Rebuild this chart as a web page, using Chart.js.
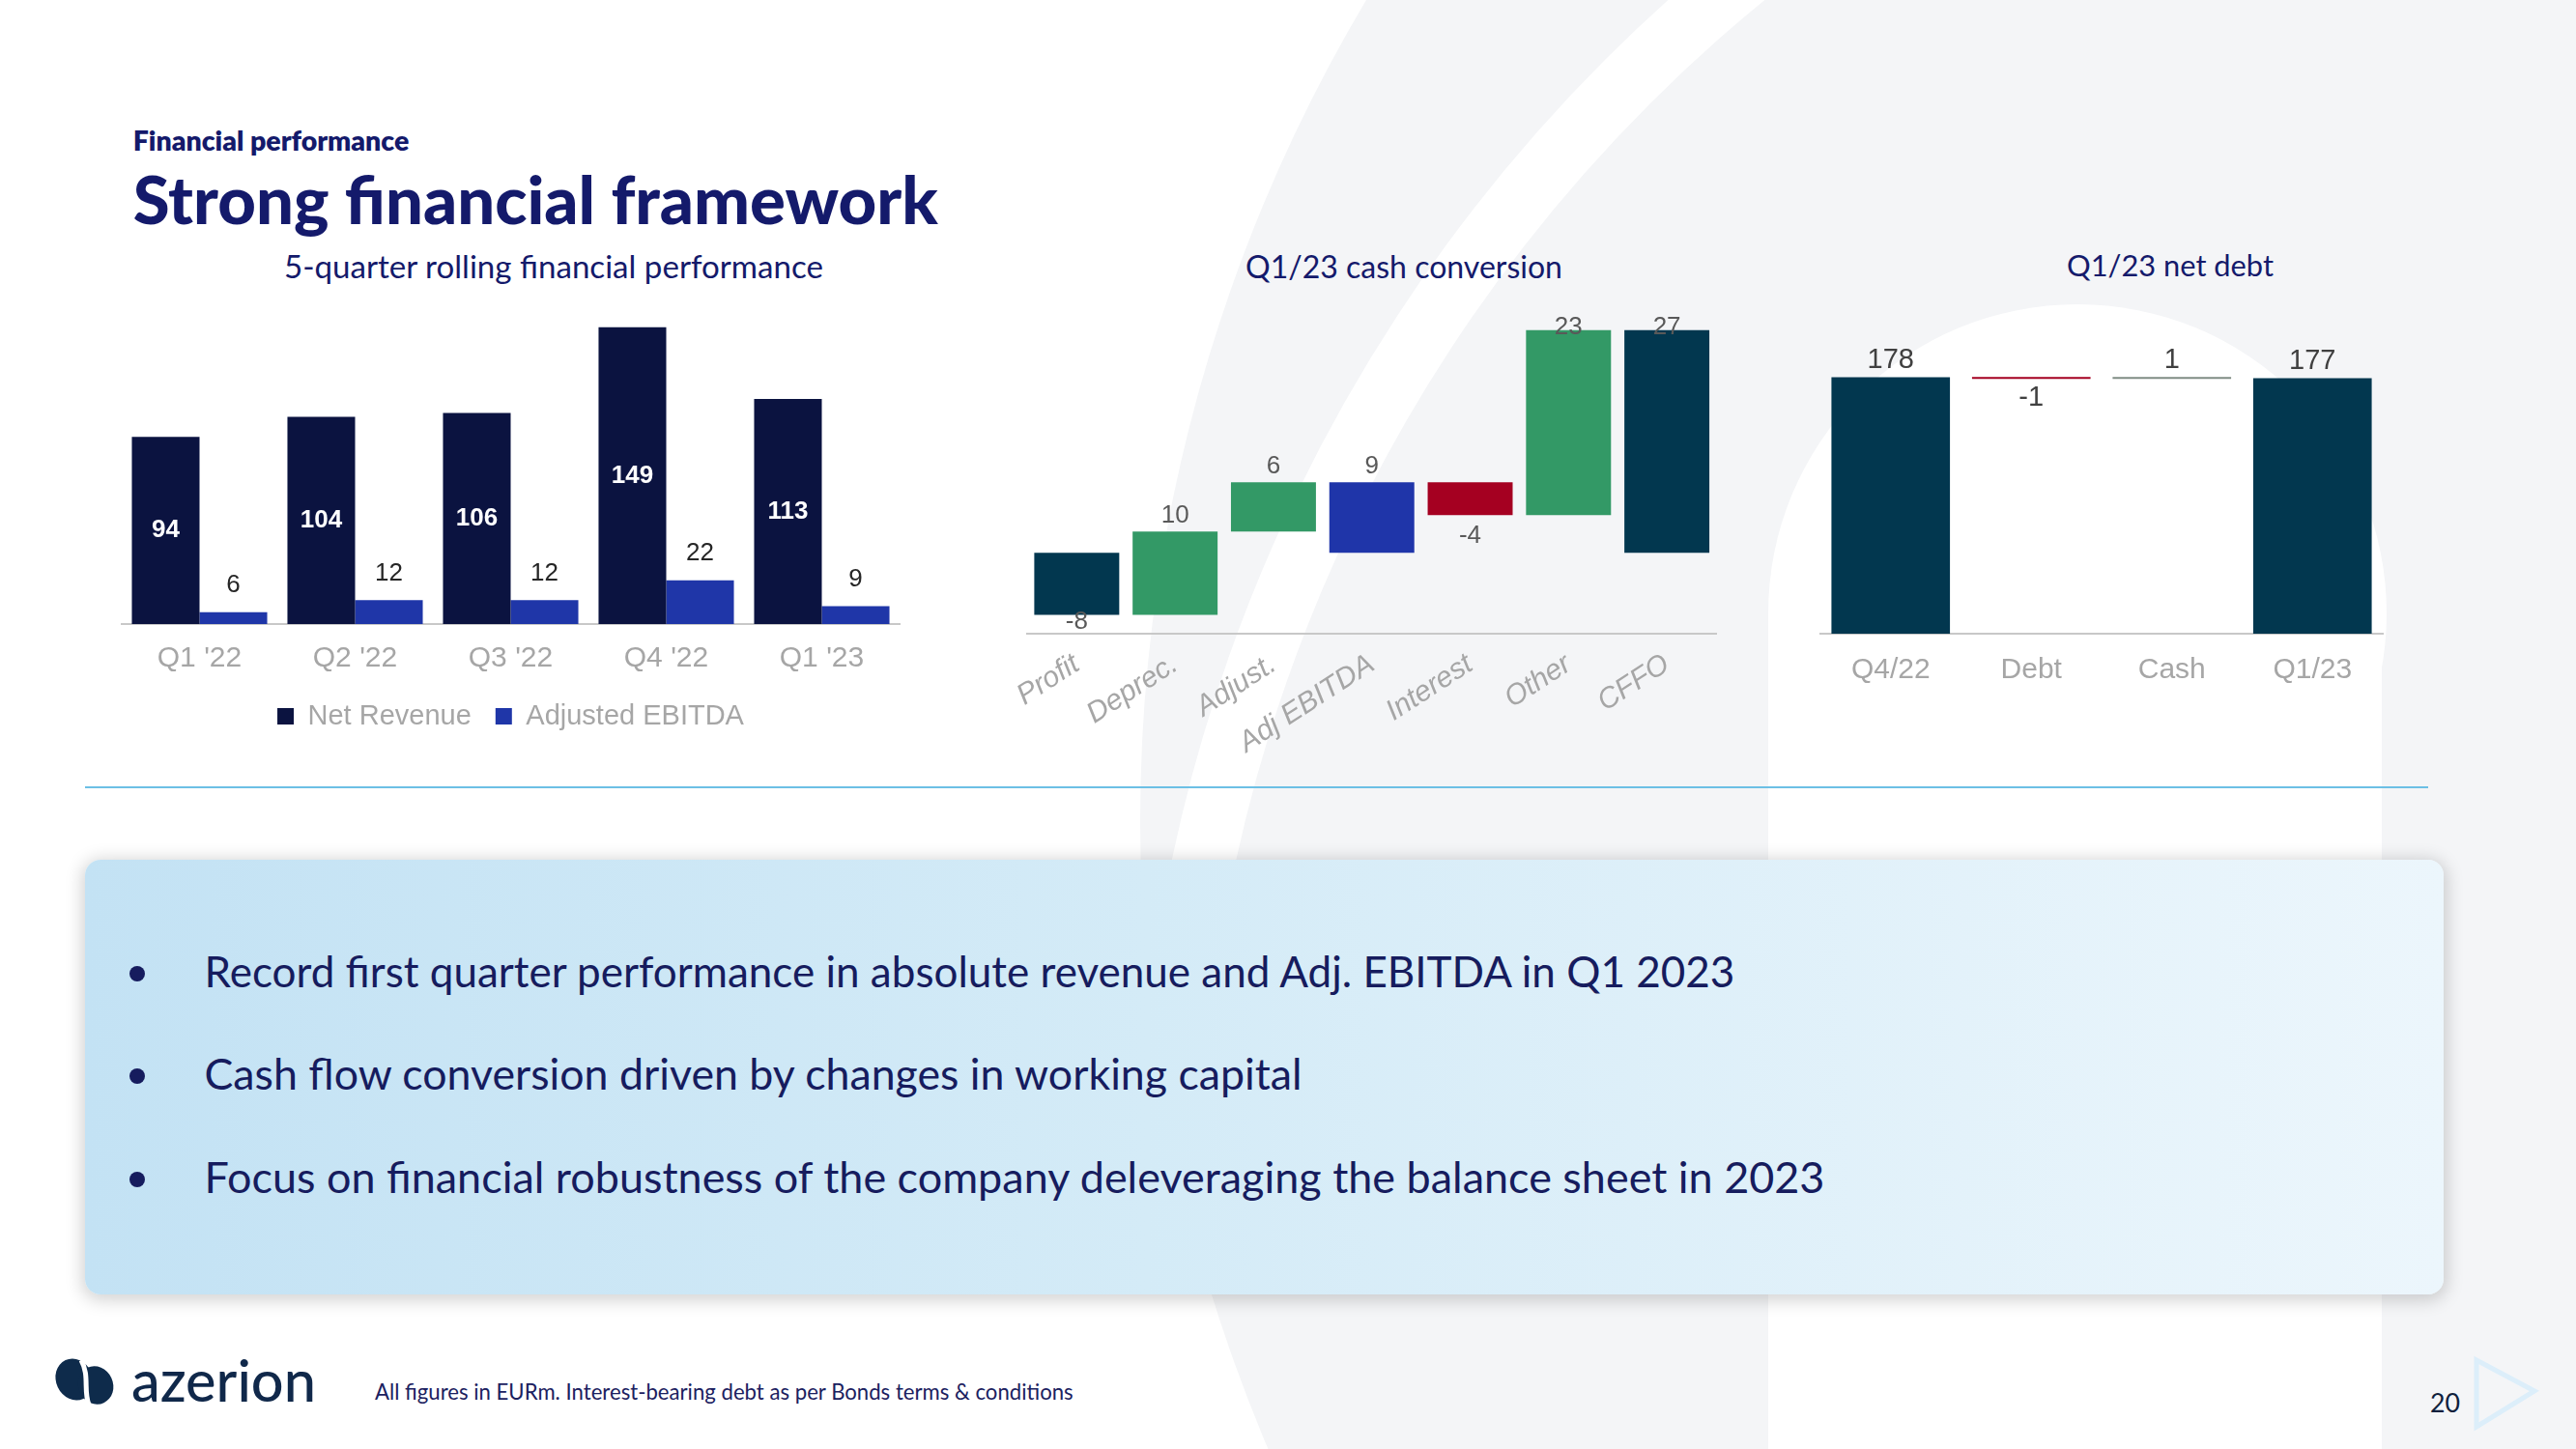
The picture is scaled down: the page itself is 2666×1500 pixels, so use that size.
<!DOCTYPE html>
<html><head><meta charset="utf-8">
<script src="https://cdn.jsdelivr.net/npm/chart.js@4.4.1/dist/chart.umd.min.js"></script>
<style>
html,body{margin:0;padding:0;background:#fff;}
#page{position:relative;width:2666px;height:1500px;overflow:hidden;background:#fff;}
#page svg{position:absolute;left:0;top:0;}
canvas{position:absolute;}
#box{position:absolute;left:88px;top:890px;width:2441px;height:450px;border-radius:16px;
 background:linear-gradient(90deg,#c3e2f4 0%,#d4ebf7 45%,#ecf6fc 100%);
 box-shadow:0 3px 18px 3px rgba(0,0,0,0.18);}
</style></head><body>
<div id="page">
<svg id="bg" width="2666" height="1500">
 <circle cx="2841" cy="850" r="1661" fill="#f4f5f7"/>
 <circle cx="2830" cy="1230" r="1620" fill="none" stroke="#ffffff" stroke-width="65"/>
 <circle cx="2150" cy="635" r="320" fill="#ffffff"/>
 <rect x="1830" y="635" width="635" height="865" fill="#ffffff"/>
</svg>
<div id="box"></div>
<svg id="txt" width="2666" height="1500">
 <text data-w="285.7" x="137.7" y="156" font-family="Lato" font-weight="800" font-size="25" fill="#141a6b">Financial performance</text>
 <text data-w="833" x="137.7" y="231.5" font-family="Lato" font-weight="900" font-size="62" fill="#141a6b">Strong financial framework</text>
 <text data-w="558" x="573" y="288" text-anchor="middle" font-family="Lato" font-size="31" fill="#141a6b">5-quarter rolling financial performance</text>
 <text data-w="328" x="1453" y="287.5" text-anchor="middle" font-family="Lato" font-size="31" fill="#141a6b">Q1/23 cash conversion</text>
 <text data-w="214" x="2246" y="286" text-anchor="middle" font-family="Lato" font-size="31" fill="#141a6b">Q1/23 net debt</text>
 <line x1="88" y1="815" x2="2513" y2="815" stroke="#6cc0e5" stroke-width="2"/>
 <circle cx="142" cy="1008" r="8" fill="#161c5e"/>
 <circle cx="142" cy="1114" r="8" fill="#161c5e"/>
 <circle cx="142" cy="1221" r="8" fill="#161c5e"/>
 <text data-w="1584" x="211.5" y="1021.7" font-family="Lato" font-size="40" fill="#161c5e">Record first quarter performance in absolute revenue and Adj. EBITDA in Q1 2023</text>
 <text data-w="1136.5" x="211.5" y="1128.3" font-family="Lato" font-size="40" fill="#161c5e">Cash flow conversion driven by changes in working capital</text>
 <text data-w="1677.5" x="211.5" y="1235" font-family="Lato" font-size="40" fill="#161c5e">Focus on financial robustness of the company deleveraging the balance sheet in 2023</text>
 <g fill="#0e2b4b">
  <ellipse cx="77" cy="1428" rx="19" ry="22" transform="rotate(-25 77 1428)"/>
  <ellipse cx="99" cy="1434" rx="18" ry="20" transform="rotate(-25 99 1434)"/>
 </g>
 <path d="M84 1408 C 93 1424, 86 1440, 92 1454" stroke="#ffffff" stroke-width="5" fill="none"/>
 <text data-w="191" x="136" y="1451" font-family="Lato" font-weight="500" font-size="50" fill="#10284a">azerion</text>
 <text data-w="723" x="388" y="1449" font-family="Lato" font-size="20" fill="#1b2160">All figures in EURm. Interest-bearing debt as per Bonds terms &amp; conditions</text>
 <text data-w="31" x="2515" y="1462" font-family="Lato" font-size="25" fill="#0f1f3d">20</text>
 <polygon points="2563,1408 2623,1440 2563,1477" fill="none" stroke="#dceefa" stroke-width="5"/>
</svg>
<canvas id="c1" width="856" height="470" style="left:100px;top:296px"></canvas>
<canvas id="c2" width="760" height="486" style="left:1040px;top:300px"></canvas>
<canvas id="c3" width="630" height="396" style="left:1860px;top:320px"></canvas>
</div>
<script>
// ---------- data ----------
const quarters = ["Q1 '22", "Q2 '22", "Q3 '22", "Q4 '22", "Q1 '23"];
const netRevenue = [94, 104, 106, 149, 113];
const adjEbitda = [6, 12, 12, 22, 9];
const perfSeries = ['Net Revenue', 'Adjusted EBITDA'];

const cashSteps = ['Profit', 'Deprec.', 'Adjust.', 'Adj EBITDA', 'Interest', 'Other', 'CFFO'];
const cashValues = [-7.6, 10.2, 6.0, 8.6, -4.0, 22.6, 27.2];
const cashKinds = ['delta', 'delta', 'delta', 'total', 'delta', 'delta', 'total'];

const debtSteps = ['Q4/22', 'Debt', 'Cash', 'Q1/23'];
const debtValues = [177.6, -1.1, 0.5, 177.0];
const debtKinds = ['total', 'delta', 'delta', 'total'];

// ---------- text fitting ----------
document.querySelectorAll('#txt text[data-w]').forEach(el => {
  const target = parseFloat(el.getAttribute('data-w'));
  const fs = parseFloat(el.getAttribute('font-size'));
  const len = el.getComputedTextLength();
  if (len > 0) el.setAttribute('font-size', (fs * target / len).toFixed(2));
});

// ---------- helpers ----------
function waterfall(values, kinds) {
  let run = 0;
  return values.map((v, i) => {
    if (kinds[i] === 'total') { run = v; return [0, v]; }
    const s = run; run += v; return [s, run];
  });
}
const FONT = "'Liberation Sans', Arial, sans-serif";
Chart.defaults.font.family = FONT;
Chart.defaults.animation = false;

const labelCfgs = {
  c1: [
    {mode: 'center', font: "bold 26px " + FONT, color: '#ffffff', text: i => String(netRevenue[i])},
    {mode: 'above', above: 27.5, font: "26px " + FONT, color: '#262626', text: i => String(adjEbitda[i])}
  ],
  c2: [
    {mode: 'auto', above: 16, below: 22, clampTop: 4, clampBottom: 12, font: "26px " + FONT, color: '#595959',
     isNeg: i => cashKinds[i] === 'delta' && cashValues[i] < 0, text: i => String(Math.round(cashValues[i]))}
  ],
  c3: [
    {mode: 'auto', above: 17, below: 20, clampTop: -100, clampBottom: -100, font: "29px " + FONT, color: '#404040',
     isNeg: i => debtKinds[i] === 'delta' && debtValues[i] < 0, text: i => String(Math.round(debtValues[i]))}
  ]
};

const valueLabels = {
  id: 'valueLabels',
  afterDatasetsDraw(chart) {
    const cfgs = labelCfgs[chart.canvas.id]; if (!cfgs) return;
    const ctx = chart.ctx, area = chart.chartArea;
    chart.data.datasets.forEach((ds, di) => {
      const cfg = cfgs[di]; if (!cfg) return;
      chart.getDatasetMeta(di).data.forEach((bar, i) => {
        const p = bar.getProps(['x', 'y', 'base'], true);
        const top = Math.min(p.y, p.base), bot = Math.max(p.y, p.base);
        let y;
        if (cfg.mode === 'center') y = (top + bot) / 2;
        else if (cfg.mode === 'auto') {
          y = cfg.isNeg(i) ? bot + cfg.below : top - cfg.above;
          y = Math.max(area.top + cfg.clampTop, Math.min(area.bottom - cfg.clampBottom, y));
        } else y = top - cfg.above;
        ctx.save();
        ctx.font = cfg.font; ctx.fillStyle = cfg.color;
        ctx.textAlign = 'center'; ctx.textBaseline = 'middle';
        ctx.fillText(cfg.text(i), p.x, y);
        ctx.restore();
      });
    });
  }
};

const axisBorder = {display: true, color: '#c8c8c8', width: 2};

// ---------- chart 1: 5-quarter performance ----------
new Chart(document.getElementById('c1'), {
  type: 'bar',
  data: {
    labels: quarters,
    datasets: [
      {label: perfSeries[0], data: netRevenue, backgroundColor: '#0b1340', barPercentage: 1, categoryPercentage: 0.87},
      {label: perfSeries[1], data: adjEbitda, backgroundColor: '#1f36a8', barPercentage: 1, categoryPercentage: 0.87}
    ]
  },
  options: {
    responsive: false, devicePixelRatio: 1,
    layout: {padding: {left: 26, right: 25, top: 20, bottom: 0}},
    scales: {
      x: {grid: {display: false, drawTicks: false}, border: axisBorder,
          ticks: {color: '#a6a6a6', font: {size: 30}, padding: 18},
          afterFit: s => { s.height = 56; }},
      y: {display: false, min: 0, max: 160}
    },
    plugins: {
      legend: {position: 'bottom', labels: {boxWidth: 17, boxHeight: 17, color: '#a6a6a6', font: {size: 29}, padding: 25}},
      tooltip: {enabled: false}
    }
  },
  plugins: [valueLabels]
});

// ---------- chart 2: cash conversion waterfall ----------
new Chart(document.getElementById('c2'), {
  type: 'bar',
  data: {
    labels: cashSteps,
    datasets: [{
      data: waterfall(cashValues, cashKinds),
      backgroundColor: ['#02374f', '#339966', '#339966', '#1f35a9', '#a50021', '#339966', '#02374f'],
      barPercentage: 0.864, categoryPercentage: 1
    }]
  },
  options: {
    responsive: false, devicePixelRatio: 1,
    layout: {padding: {left: 23, right: 24, top: 35, bottom: 0}},
    scales: {
      x: {grid: {display: false, drawTicks: false}, border: axisBorder,
          ticks: {color: '#a6a6a6', font: {size: 30, style: 'italic'}, padding: 14, minRotation: 33, maxRotation: 33, autoSkip: false},
          afterFit: s => { s.height = 130; }},
      y: {display: false, min: -9.9, max: 28}
    },
    plugins: {legend: {display: false}, tooltip: {enabled: false}}
  },
  plugins: [valueLabels]
});

// ---------- chart 3: net debt bridge ----------
new Chart(document.getElementById('c3'), {
  type: 'bar',
  data: {
    labels: debtSteps,
    datasets: [{
      data: waterfall(debtValues, debtKinds),
      backgroundColor: ['#02374f', '#a50021', '#7f8c84', '#02374f'],
      barPercentage: 0.843, categoryPercentage: 1, minBarLength: 2
    }]
  },
  options: {
    responsive: false, devicePixelRatio: 1,
    layout: {padding: {left: 24, right: 24, top: 37, bottom: 0}},
    scales: {
      x: {grid: {display: false, drawTicks: false}, border: axisBorder,
          ticks: {color: '#a6a6a6', font: {size: 30}, padding: 20},
          afterFit: s => { s.height = 60; }},
      y: {display: false, min: 0, max: 200}
    },
    plugins: {legend: {display: false}, tooltip: {enabled: false}}
  },
  plugins: [valueLabels]
});
</script>
</body></html>
